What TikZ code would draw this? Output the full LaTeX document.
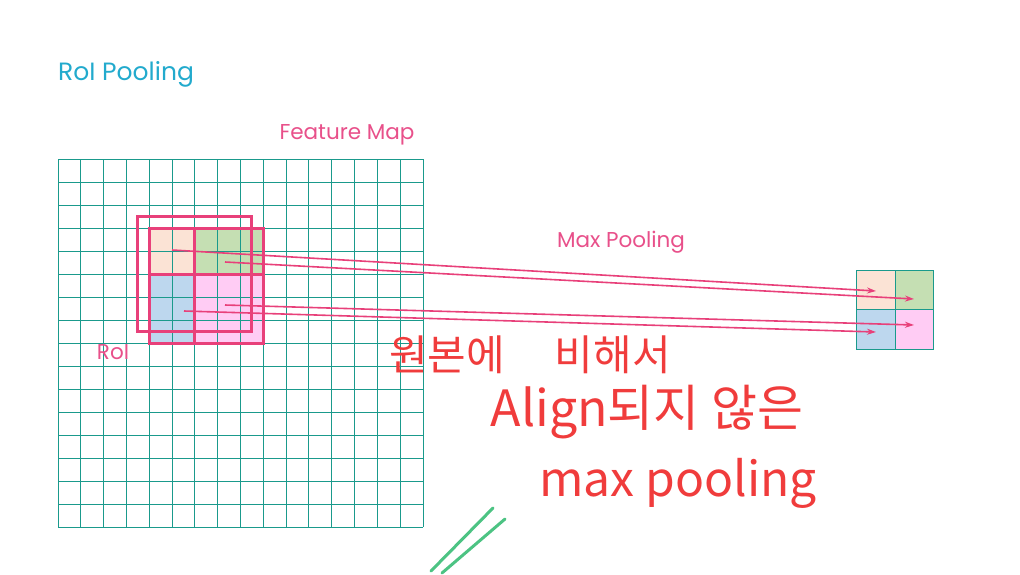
\documentclass[tikz,border=0pt]{standalone}
\usepackage{fontspec}
\setmainfont{Poppins}
\newfontfamily\krfont{Noto Sans CJK KR}
\usetikzlibrary{arrows.meta}
\definecolor{gridc}{HTML}{1A9A8C}
\definecolor{pinkc}{HTML}{E8407A}
\definecolor{labelc}{HTML}{E8508A}
\definecolor{peach}{HTML}{FBE3D5}
\definecolor{greenc}{HTML}{C5DFB3}
\definecolor{bluec}{HTML}{BDD7EE}
\definecolor{pinkf}{HTML}{FFCCF4}
\definecolor{titlec}{HTML}{22AACD}
\definecolor{handc}{HTML}{F03C3C}
\definecolor{strokeg}{HTML}{4CC383}
\begin{document}
\begin{tikzpicture}[x=1pt,y=-1pt,
  cellbox/.style={inner sep=0pt, outer sep=0pt, anchor=north west, draw=none},
  gridline/.style={gridc, line width=0.9pt},
  roibox/.style={draw=pinkc, line width=3pt},
  poolarrow/.style={pinkc, line width=1.6pt, -{Stealth[length=9pt,width=6pt]}},
  lbl/.style={text=labelc, font=\fontsize{21.5}{25}\selectfont, inner sep=0pt},
  hand/.style={text=handc, inner sep=0pt},
  outcell/.style={inner sep=0pt, outer sep=0pt, anchor=north west, draw=gridc, line width=0.9pt, minimum width=38.3pt, minimum height=39.6pt}
]
\useasboundingbox (0,0) rectangle (1020,574);
% title
\node[text=titlec, anchor=west, inner sep=0pt, font=\fontsize{25}{29}\selectfont] (title) at (58,74) {RoI Pooling};
% colored pooling cells on the feature map
\node[cellbox, fill=peach, minimum width=45.6pt, minimum height=46pt] (c11) at (149.25,228) {};
\node[cellbox, fill=greenc, minimum width=68.4pt, minimum height=46pt] (c12) at (194.9,228) {};
\node[cellbox, fill=bluec, minimum width=45.6pt, minimum height=69pt] (c21) at (149.25,274) {};
\node[cellbox, fill=pinkf, minimum width=68.4pt, minimum height=69pt] (c22) at (194.9,274) {};
% grid 16x16
\foreach \i in {0,...,16} {
  \draw[gridline] ({58+\i*22.8125},159) -- ({58+\i*22.8125},527);
  \draw[gridline] (58,{159+\i*23}) -- (423,{159+\i*23});
}
\node[cellbox, minimum width=365pt, minimum height=368pt] (fmap) at (58,159) {};
% RoI box (not aligned) and pooling box (aligned)
\draw[roibox] (137.8,216.5) rectangle (251.8,331.5);
\draw[roibox] (149.25,228) rectangle (263.3,343);
\draw[roibox] (194.9,228) -- (194.9,343);
\draw[roibox] (149.25,274) -- (263.3,274);
% labels
\node[lbl] (fm) at (347,135) {Feature Map};
\node[lbl] (mp) at (621,242) {Max Pooling};
\node[lbl] (roi) at (113,352) {RoI};
% output 2x2
\node[outcell, fill=peach] (o11) at (856.7,270) {};
\node[outcell, fill=greenc] (o12) at (895,270) {};
\node[outcell, fill=bluec] (o21) at (856.7,309.6) {};
\node[outcell, fill=pinkf] (o22) at (895,309.6) {};
% arrow endpoints
\coordinate (s11) at (172,250);
\coordinate (s12) at (225,262);
\coordinate (s22) at (225,305);
\coordinate (s21) at (184,311);
\coordinate (e11) at (876,291);
\coordinate (e12) at (914,299);
\coordinate (e22) at (914,325);
\coordinate (e21) at (876,332);
\draw[poolarrow] (s11) -- (e11);
\draw[poolarrow] (s12) -- (e12);
\draw[poolarrow] (s22) -- (e22);
\draw[poolarrow] (s21) -- (e21);
% handwritten note
\node[hand, font=\krfont\fontsize{42}{48}\selectfont] (h1) at (530,355) {원본에\hspace{50pt}비해서};
\node[hand, font=\krfont\fontsize{50}{56}\selectfont] (h2) at (647,412) {Align되지 않은};
\node[hand, font=\krfont\fontsize{48}{54}\selectfont] (h3) at (678,483) {max pooling};
% green strokes
\draw[strokeg, line width=3pt, line cap=round] (493,508) -- (431,571);
\draw[strokeg, line width=3pt, line cap=round] (505,519) -- (442,573);
\end{tikzpicture}
\end{document}
